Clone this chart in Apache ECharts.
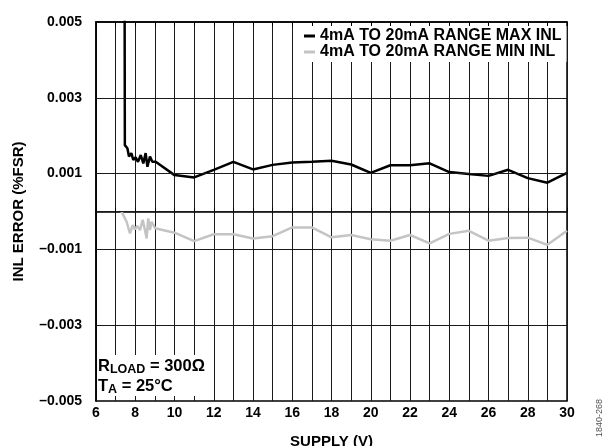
<!DOCTYPE html>
<html>
<head>
<meta charset="utf-8">
<script src="https://cdn.jsdelivr.net/npm/echarts@6/dist/echarts.min.js"></script>
<style>
  html, body { margin: 0; padding: 0; background: #fff; }
  #chart { width: 611px; height: 446px; }
</style>
</head>
<body>
<div id="chart"></div>
<script>
// Supply voltage (V) and INL error (%FSR), 4mA to 20mA range
const maxSupply = [7.45, 7.47, 7.6, 7.68, 7.8, 7.9, 8.02, 8.14, 8.28, 8.41, 8.53, 8.62, 8.75, 8.87, 9.04,
  10, 11, 12, 13, 14, 15, 16, 17, 18, 19, 20, 21, 22, 23, 24, 25, 26, 27, 28, 29, 30];
const maxInl = [0.0080, 0.00175, 0.00167, 0.00145, 0.00154, 0.00136, 0.00143, 0.00131, 0.00149, 0.00127, 0.00154, 0.00118, 0.00145, 0.00131, 0.00131,
  0.00096, 0.00090, 0.00110, 0.00131, 0.00111, 0.00123, 0.00129, 0.00131, 0.00134, 0.00124, 0.00102, 0.00122, 0.00122, 0.00127, 0.00104, 0.00099, 0.00094, 0.00110, 0.00088, 0.00076, 0.00102];

const minSupply = [7.3, 7.56, 7.73, 7.87, 7.99, 8.1, 8.24, 8.38, 8.5, 8.58, 8.66, 8.75, 8.83, 9.01,
  10, 11, 12, 13, 14, 15, 16, 17, 18, 19, 20, 21, 22, 23, 24, 25, 26, 27, 28, 29, 30];
const minInl = [0.0000, -0.00027, -0.00058, -0.00036, -0.00047, -0.00038, -0.00049, -0.00022, -0.00050, -0.00071, -0.00018, -0.00049, -0.00027, -0.00044,
  -0.00056, -0.00078, -0.00060, -0.00060, -0.00071, -0.00065, -0.00042, -0.00042, -0.00068, -0.00062, -0.00073, -0.00077, -0.00062, -0.00084, -0.00059, -0.00051, -0.00077, -0.00070, -0.00069, -0.00088, -0.00051];

const seriesNames = ['4mA TO 20mA RANGE MAX INL', '4mA TO 20mA RANGE MIN INL'];
// horizontal rules across the plot
const yGridValues = [-0.003, -0.001, 0, 0.001, 0.003];

const FONT = '"Liberation Sans", Arial, Helvetica, sans-serif';
const GRID = '#1a1a1a';

function pairs(xs, ys) { return xs.map((x, i) => [x, ys[i]]); }

function yLabel(v) {
  const k = Math.round(v * 1000);
  if (Math.abs(k) % 2 !== 1) return '';
  return (k < 0 ? '\u2013' : '') + Math.abs(v).toFixed(3);
}

const chart = echarts.init(document.getElementById('chart'), null, { renderer: 'canvas' });

chart.setOption({
  animation: false,
  backgroundColor: '#fff',
  textStyle: { fontFamily: FONT },
  grid: { left: 96, right: 44, top: 22, bottom: 45, outerBoundsMode: 'none', containLabel: false,
    show: true, borderColor: '#000', borderWidth: 1.5, backgroundColor: 'transparent' },
  xAxis: [{
    type: 'value', min: 6, max: 30, interval: 1,
    name: 'SUPPLY (V)', nameLocation: 'middle', nameGap: 33,
    nameTextStyle: { fontSize: 15, fontWeight: 'bold', color: '#000', fontFamily: FONT },
    axisLine: { lineStyle: { color: '#000', width: 1.5 } },
    axisTick: { show: true, inside: true, length: 4, lineStyle: { color: '#000' } },
    axisLabel: { margin: 5, fontSize: 14, fontWeight: 'bold', color: '#000', fontFamily: FONT,
      formatter: v => (Math.round(v) % 2 === 0 ? String(Math.round(v)) : '') },
    splitLine: { show: true, lineStyle: { color: GRID, width: 1 } }
  }, {
    type: 'value', min: 6, max: 30, interval: 1, position: 'top',
    axisLine: { show: true, lineStyle: { color: '#000', width: 1.5 } },
    axisTick: { show: true, inside: true, length: 4, lineStyle: { color: '#000' } },
    axisLabel: { show: false },
    splitLine: { show: false }
  }],
  yAxis: {
    type: 'value', min: -0.005, max: 0.005, interval: 0.001,
    name: 'INL ERROR (%FSR)', nameLocation: 'middle', nameGap: 70, nameRotate: 90,
    nameTextStyle: { fontSize: 15, fontWeight: 'bold', color: '#000', fontFamily: FONT },
    axisLine: { lineStyle: { color: '#000', width: 1.5 } },
    axisTick: { show: false },
    axisLabel: { margin: 14, fontSize: 14, fontWeight: 'bold', color: '#000', fontFamily: FONT, formatter: yLabel },
    splitLine: { show: false }
  },
  legend: {
    orient: 'vertical', left: 294, top: 26,
    backgroundColor: '#fff',
    padding: [2, 5, 2, 10],
    itemGap: 0, itemWidth: 11, itemHeight: 3, icon: 'rect',
    textStyle: { fontSize: 16, lineHeight: 13, fontWeight: 'bold', color: '#000', fontFamily: FONT },
    data: seriesNames
  },
  title: {
    left: 97, top: 355,
    backgroundColor: '#fff',
    padding: [1, 4, 0, 1],
    text: '{r|R}{s|LOAD}{r| = 300\u03A9}\n{r|T}{s|A}{r| = 25\u00B0C}',
    textStyle: {
      fontFamily: FONT, lineHeight: 20,
      rich: {
        r: { fontSize: 16.5, fontWeight: 'bold', color: '#000', fontFamily: FONT, lineHeight: 20 },
        s: { fontSize: 12.5, fontWeight: 'bold', color: '#000', fontFamily: FONT, lineHeight: 20, verticalAlign: 'bottom', padding: [6, 0, 0, 0] }
      }
    }
  },
  graphic: [{
    type: 'text', x: 599.5, y: 437, rotation: Math.PI / 2,
    style: { text: '1840-268', fontSize: 9, fontFamily: FONT, fill: '#555', align: 'left', verticalAlign: 'middle' }
  }],
  series: [{
    name: seriesNames[0], type: 'line', xAxisIndex: 0,
    data: pairs(maxSupply, maxInl), showSymbol: false, symbol: 'none',
    lineStyle: { color: '#000', width: 2.5 }, itemStyle: { color: '#000' },
    markLine: {
      silent: true, symbol: 'none', label: { show: false }, precision: 6,
      lineStyle: { color: GRID, width: 1, type: 'solid' },
      emphasis: { disabled: true },
      data: yGridValues.map(v => ({ yAxis: v }))
    }
  }, {
    name: seriesNames[1], type: 'line', xAxisIndex: 0,
    data: pairs(minSupply, minInl), showSymbol: false, symbol: 'none',
    lineStyle: { color: '#c4c4c4', width: 2.5 }, itemStyle: { color: '#c4c4c4' }
  }]
});
</script>
</body>
</html>
